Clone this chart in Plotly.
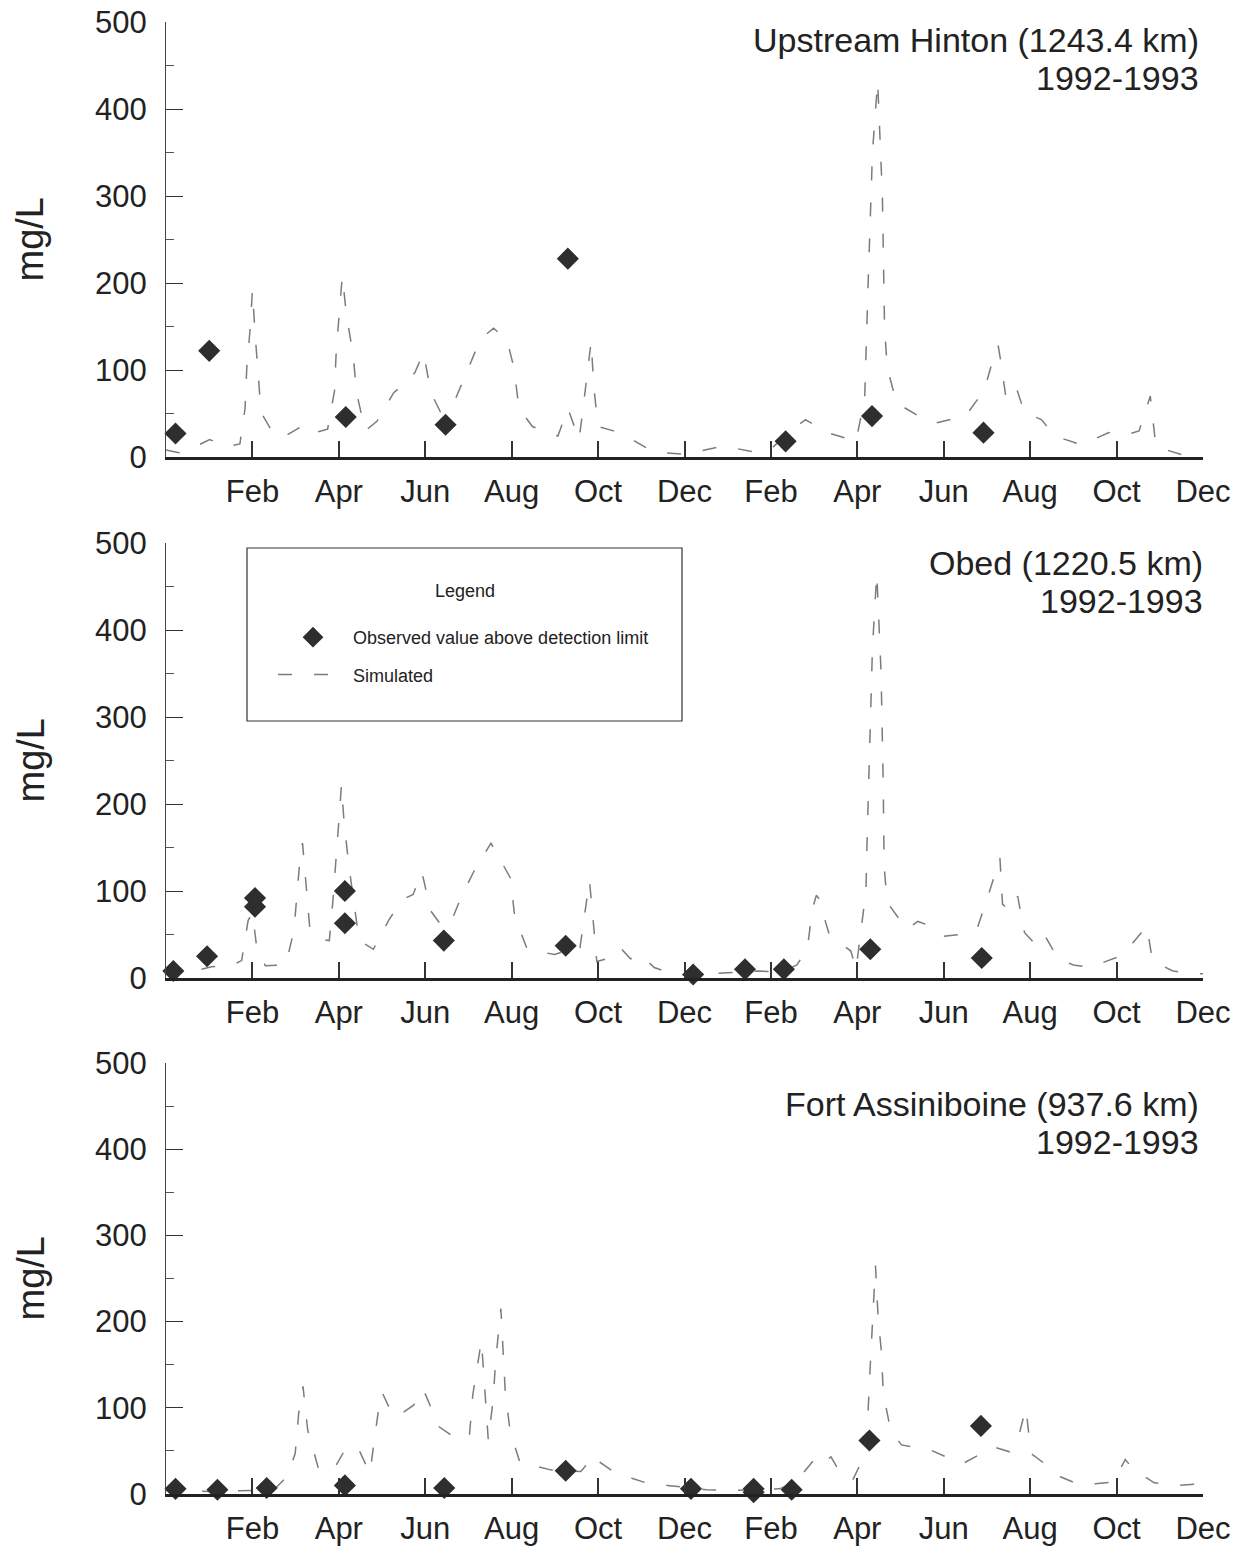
import plotly.graph_objects as go

# ---------------- data (month index: 0 = start of Jan 1992, 24 = end of Dec 1993) ----------------
tick_months = [2, 4, 6, 8, 10, 12, 14, 16, 18, 20, 22, 24]
tick_labels = ["Feb", "Apr", "Jun", "Aug", "Oct", "Dec", "Feb", "Apr", "Jun", "Aug", "Oct", "Dec"]

station_names = ["Upstream Hinton (1243.4 km)", "Obed (1220.5 km)", "Fort Assiniboine (937.6 km)"]
period_label = "1992-1993"

hinton_sim_month = [0.0, 0.3, 0.6, 1.01, 1.4, 1.71, 1.83, 1.87, 1.95, 2.0, 2.06, 2.14, 2.2, 2.45, 2.69,
                    3.2, 3.45, 3.74, 3.9, 3.94, 4.02, 4.08, 4.18, 4.33, 4.41, 4.61, 4.88, 5.27, 5.54,
                    5.76, 5.96, 6.13, 6.35, 6.64, 6.95, 7.27, 7.58, 7.89, 8.05, 8.17, 8.48, 9.07, 9.3,
                    9.56, 9.65, 9.75, 9.84, 9.9, 10.0, 10.36, 10.79, 11.2, 11.53, 12.0, 12.5, 12.85,
                    13.17, 13.6, 14.02, 14.4, 14.8, 15.31, 15.97, 16.17, 16.25, 16.35, 16.47, 16.58,
                    16.63, 16.69, 16.91, 17.49, 17.8, 18.2, 18.5, 18.93, 19.2, 19.26, 19.32, 19.44,
                    19.67, 19.87, 20.26, 20.57, 21.19, 21.82, 22.2, 22.52, 22.71, 22.78, 22.91, 23.3,
                    23.61, 24.0]
hinton_sim_value = [8, 5, 10, 20, 12, 15, 56, 103, 149, 192, 143, 95, 51, 30, 22,
                    37, 28, 32, 76, 122, 168, 208, 162, 118, 74, 30, 41, 74, 85,
                    97, 120, 74, 52, 60, 96, 135, 148, 135, 103, 56, 35, 24, 56,
                    20, 55, 97, 133, 81, 35, 30, 20, 8, 5, 3, 8, 12,
                    10, 6, 10, 28, 43, 28, 18, 68, 200, 350, 432, 300,
                    150, 103, 62, 45, 39, 44, 47, 76, 122, 128, 110, 68,
                    81, 51, 43, 24, 14, 28, 25, 30, 60, 70, 12, 6,
                    1, 4]
hinton_obs_month = [0.22, 1.0, 4.16, 6.47, 9.3, 14.34, 16.34, 18.92]
hinton_obs_value = [27, 122, 46, 37, 228, 18, 47, 28]

obed_sim_month = [0.0, 0.5, 1.05, 1.5, 1.75, 1.9, 2.0, 2.1, 2.3, 2.77, 2.96, 3.04, 3.12, 3.16, 3.25,
                  3.33, 3.55, 3.78, 3.86, 3.94, 4.03, 4.06, 4.12, 4.23, 4.35, 4.47, 4.8, 5.15, 5.46,
                  5.72, 5.92, 6.13, 6.35, 6.56, 6.84, 7.13, 7.52, 7.97, 8.07, 8.36, 8.99, 9.3, 9.57,
                  9.69, 9.8, 9.89, 9.97, 10.2, 10.51, 10.75, 10.98, 11.3, 11.65, 12.0, 12.7, 13.24,
                  13.7, 14.26, 14.6, 14.84, 14.96, 15.05, 15.1, 15.35, 15.85, 15.97, 16.09, 16.2,
                  16.22, 16.27, 16.35, 16.45, 16.55, 16.6, 16.62, 16.69, 17.14, 17.4, 17.57, 18.0,
                  18.4, 18.78, 19.05, 19.3, 19.36, 19.52, 19.71, 19.87, 20.1, 20.3, 20.65, 21.0,
                  21.39, 21.8, 22.13, 22.64, 22.7, 22.83, 23.3, 23.84, 24.0]
obed_sim_value = [5, 6, 13, 14, 20, 66, 75, 35, 14, 15, 54, 100, 148, 155, 101,
                  56, 45, 43, 87, 136, 200, 222, 180, 130, 87, 43, 33, 66, 90,
                  96, 122, 77, 62, 60, 94, 123, 155, 115, 71, 33, 27, 32, 31,
                  71, 112, 64, 19, 22, 35, 22, 27, 12, 6, 3, 5, 6,
                  8, 7, 15, 33, 79, 95, 92, 50, 31, 10, 60, 100,
                  148, 240, 380, 465, 350, 220, 129, 87, 56, 65, 62, 48,
                  50, 58, 98, 138, 85, 77, 94, 52, 40, 52, 22, 15,
                  12, 20, 26, 56, 60, 20, 8, 5, 5]
obed_obs_month = [0.17, 0.95, 2.06, 2.06, 4.14, 4.14, 6.43, 9.25, 12.2, 13.4, 14.3, 16.3, 18.88]
obed_obs_value = [8, 25, 92, 82, 100, 63, 43, 37, 4, 10, 10, 33, 23]

fort_sim_month = [0.0, 1.0, 2.0, 2.5, 2.8, 2.99, 3.07, 3.17, 3.28, 3.52, 3.7, 3.91, 4.15, 4.32, 4.43,
                  4.72, 4.83, 4.95, 5.0, 5.26, 5.5, 5.73, 5.95, 6.32, 6.67, 7.02, 7.1, 7.22, 7.3,
                  7.38, 7.46, 7.57, 7.63, 7.75, 7.81, 7.85, 7.96, 8.2, 8.5, 8.9, 9.6, 9.92, 10.04,
                  10.47, 10.8, 11.17, 11.6, 12.0, 12.5, 13.0, 13.6, 14.2, 14.6, 15.08, 15.25, 15.39,
                  15.6, 15.89, 16.19, 16.24, 16.3, 16.38, 16.42, 16.48, 16.56, 16.6, 16.77, 17.02,
                  17.69, 18.1, 18.43, 18.8, 19.13, 19.52, 19.75, 19.9, 20.02, 20.34, 20.7, 21.08,
                  21.5, 21.93, 22.2, 22.4, 22.87, 23.4, 23.92, 24.0]
fort_sim_value = [4, 3, 4, 5, 20, 47, 93, 125, 74, 31, 25, 31, 52, 55, 55,
                  24, 66, 109, 118, 90, 95, 103, 122, 78, 66, 66, 115, 155, 178,
                  120, 62, 109, 155, 215, 163, 120, 74, 35, 33, 28, 26, 45, 37,
                  22, 18, 12, 10, 8, 5, 4, 5, 6, 15, 45, 38, 43,
                  25, 16, 47, 86, 150, 227, 265, 206, 163, 117, 74, 57,
                  51, 42, 35, 45, 55, 49, 70, 100, 47, 35, 20, 12,
                  12, 14, 40, 28, 13, 10, 12, 12]
fort_obs_month = [0.22, 1.19, 2.33, 4.14, 6.44, 9.25, 12.15, 13.6, 13.6, 14.48, 16.28, 18.86]
fort_obs_value = [6, 5, 7, 10, 7, 27, 6, 6, 2, 5, 62, 79]

sim_months = [hinton_sim_month, obed_sim_month, fort_sim_month]
sim_values = [hinton_sim_value, obed_sim_value, fort_sim_value]
obs_months = [hinton_obs_month, obed_obs_month, fort_obs_month]
obs_values = [hinton_obs_value, obed_obs_value, fort_obs_value]

# ---------------- layout helpers (pixel geometry) ----------------
W, H = 1250, 1551
ML, MR = 166, 47
PW = W - ML - MR
FONT = "Liberation Sans, Arial, sans-serif"
TXT = "#222222"

def px_x(px):
    return (px - ML) / PW

def px_y(py):
    return 1 - py / H

panel_top = [22, 543, 1063]      # pixel y of value 500
panel_bottom = [457, 978, 1494]  # pixel y of value 0

fig = go.Figure()
layout = dict(
    width=W, height=H,
    margin=dict(l=ML, r=MR, t=0, b=0, autoexpand=False),
    paper_bgcolor="white", plot_bgcolor="white",
    font=dict(family=FONT, color=TXT),
    showlegend=True,
    annotations=[], shapes=[],
)

for i in range(3):
    xa = "x" if i == 0 else f"x{i+1}"
    ya = "y" if i == 0 else f"y{i+1}"
    fig.add_trace(go.Scatter(
        x=sim_months[i], y=sim_values[i], mode="lines", name="Simulated",
        line=dict(color="#7c7c7c", width=1.5, dash="14px,22px"),
        xaxis=xa, yaxis=ya, showlegend=(i == 1), legendgroup="sim", legendrank=2,
        hoverinfo="skip"))
    fig.add_trace(go.Scatter(
        x=obs_months[i], y=obs_values[i], mode="markers",
        name="Observed value above detection limit",
        marker=dict(symbol="diamond", size=17, color="#2e2e2e"),
        xaxis=xa, yaxis=ya, showlegend=(i == 1), legendgroup="obs", legendrank=1,
        cliponaxis=False))

    dom_y = [px_y(panel_bottom[i]), px_y(panel_top[i])]
    xkey = "xaxis" if i == 0 else f"xaxis{i+1}"
    ykey = "yaxis" if i == 0 else f"yaxis{i+1}"
    layout[xkey] = dict(
        domain=[0, 1], anchor=ya, range=[0, 24], automargin=False,
        tickmode="array", tickvals=tick_months, ticktext=tick_labels,
        ticks="inside", ticklen=16, tickwidth=1.5, tickcolor="#333",
        showline=True, linecolor="#222", linewidth=2.5,
        showgrid=False, zeroline=False,
        tickfont=dict(size=31, color=TXT, family=FONT),
        ticklabelstandoff=5,
    )
    layout[ykey] = dict(
        domain=dom_y, anchor=xa, range=[0, 500], automargin=False,
        tickmode="linear", tick0=0, dtick=100,
        ticks="inside", ticklen=17, tickwidth=1.2, tickcolor="#333",
        minor=dict(ticks="inside", ticklen=8, tickwidth=1, tickcolor="#555",
                   tickmode="linear", tick0=0, dtick=50),
        showline=True, linecolor="#444", linewidth=1.2,
        showgrid=False, zeroline=False,
        tickfont=dict(size=31, color=TXT, family=FONT),
        ticklabelstandoff=12,
    )
    # y-axis label
    layout["annotations"].append(dict(
        text="mg/L", xref="paper", yref="paper",
        x=px_x(30), y=px_y((panel_top[i] + panel_bottom[i]) / 2),
        textangle=-90, showarrow=False, xanchor="center", yanchor="middle",
        font=dict(size=38, color=TXT, family=FONT)))
    # station title (two right-aligned lines)
    title_y = [40, 563, 1104][i]
    title_x = [1201, 1205, 1201][i]
    layout["annotations"].append(dict(
        text=station_names[i], xref="paper", yref="paper",
        x=px_x(title_x), y=px_y(title_y), xanchor="right", yanchor="middle",
        showarrow=False, font=dict(size=34, color=TXT, family=FONT)))
    layout["annotations"].append(dict(
        text=period_label, xref="paper", yref="paper",
        x=px_x(title_x), y=px_y(title_y + 38), xanchor="right", yanchor="middle",
        showarrow=False, font=dict(size=34, color=TXT, family=FONT)))

# legend box and heading in the middle panel
layout["shapes"].append(dict(
    type="rect", xref="paper", yref="paper",
    x0=px_x(247), x1=px_x(682), y0=px_y(721), y1=px_y(548),
    line=dict(color="#333", width=1.2), fillcolor="rgba(0,0,0,0)"))
layout["annotations"].append(dict(
    text="Legend", xref="paper", yref="paper", x=px_x(465), y=px_y(591),
    xanchor="center", yanchor="middle", showarrow=False,
    font=dict(size=18, color=TXT, family=FONT)))
layout["legend"] = dict(
    x=px_x(273), y=px_y(619), xanchor="left", yanchor="top",
    bgcolor="rgba(0,0,0,0)", borderwidth=0,
    font=dict(size=18, color=TXT, family=FONT),
    itemwidth=70, tracegroupgap=11, traceorder="grouped",
    itemclick=False, itemdoubleclick=False,
)

fig.update_layout(**layout)
fig.write_html("out.html")
